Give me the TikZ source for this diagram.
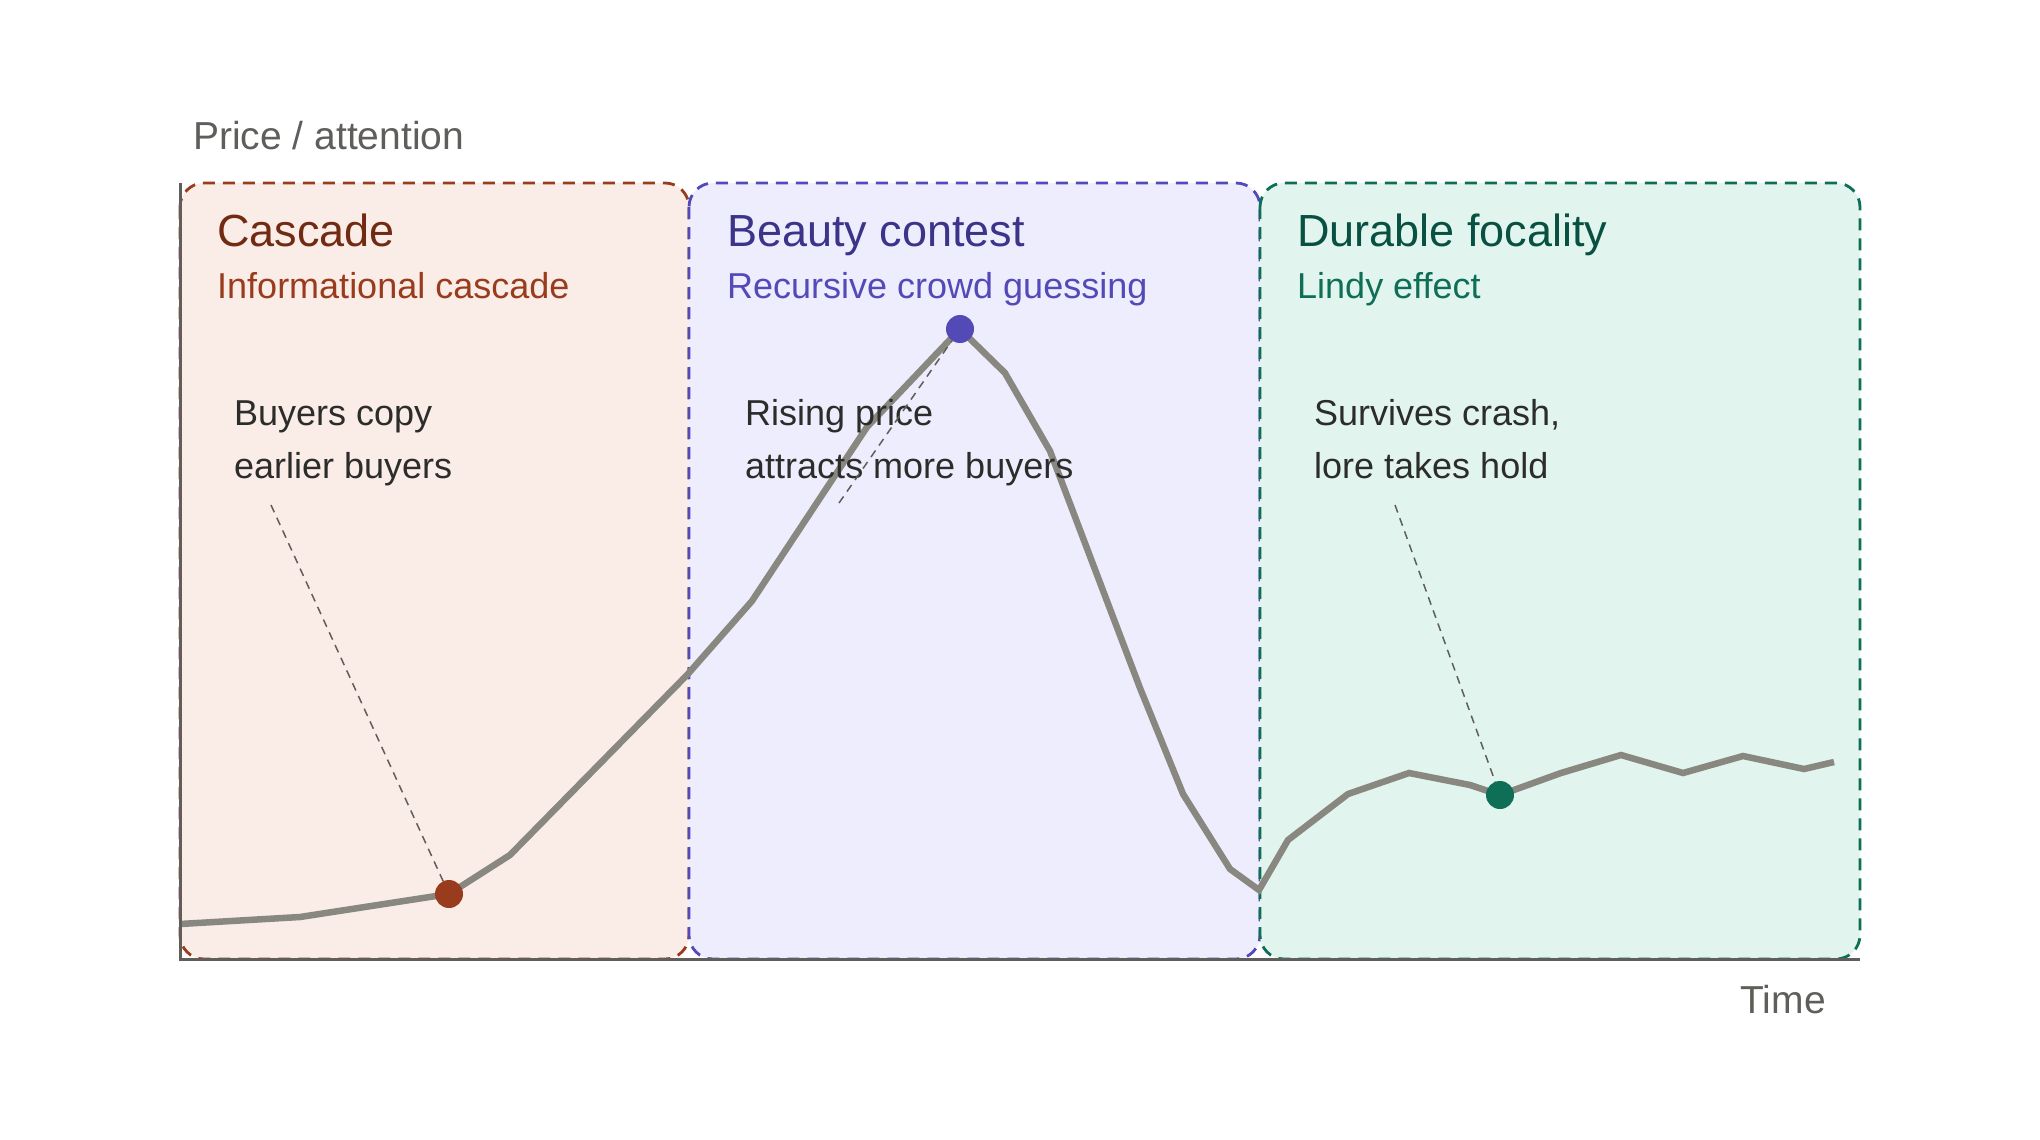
\documentclass[tikz,border=0pt]{standalone}
\usepackage{fontspec}
\setmainfont{Liberation Sans}
\usepackage{xcolor}
\usepackage{tikz}
\usetikzlibrary{positioning}

\definecolor{coralfill}{HTML}{FAECE7}
\definecolor{coralline}{HTML}{993C1D}
\definecolor{coraldark}{HTML}{712B13}
\definecolor{purplefill}{HTML}{EEEDFE}
\definecolor{purpleline}{HTML}{534AB7}
\definecolor{purpledark}{HTML}{3C3489}
\definecolor{tealfill}{HTML}{E1F5EE}
\definecolor{tealline}{HTML}{0F6E56}
\definecolor{tealdark}{HTML}{085041}
\definecolor{curvegray}{HTML}{888780}
\definecolor{axisgray}{HTML}{5F5E5A}
\definecolor{inkgray}{HTML}{2C2C2A}

\begin{document}
\begin{tikzpicture}[x=1pt, y=-1pt,
    zone/.style={line width=2.8pt, dash pattern=on 12pt off 8pt, rounded corners=24pt},
    zonetitle/.style={anchor=base west, inner sep=0pt, font=\fontsize{45}{54}\selectfont},
    zonesub/.style={anchor=base west, inner sep=0pt, font=\fontsize{36}{43}\selectfont},
    note/.style={anchor=base west, inner sep=0pt, align=left, text=inkgray, font=\fontsize{36}{53}\selectfont},
    axislabel/.style={inner sep=0pt, text=axisgray, font=\fontsize{39}{47}\selectfont},
    marker/.style={circle, inner sep=0pt, minimum size=28pt},
    leader/.style={draw=axisgray, line width=1.5pt, dash pattern=on 8pt off 6pt}]
    \useasboundingbox (0,0) rectangle (2040,1140);

    % Ba vùng nền
    \draw[zone, draw=coralline, fill=coralfill] (180,183) rectangle (689,959);
    \draw[zone, draw=purpleline, fill=purplefill] (689,183) rectangle (1260,959);
    \draw[zone, draw=tealline, fill=tealfill] (1260,183) rectangle (1860,959);

    % Đường giá
    \draw[curvegray, line width=6.5pt] plot coordinates {
        (180,924) (300,917) (449,894) (510,855) (687,675) (752,601)
        (867,427) (960,329) (1005,373) (1050,451) (1140,688) (1183,794)
        (1230,869) (1259,890) (1288,840) (1348,794) (1409,773) (1470,785)
        (1500,795) (1561,773) (1621,755) (1683,773) (1743,756) (1804,769)
        (1834,762)};

    % Hệ trục
    \draw[axisgray, line width=3pt] (180,183) -- (180,959) -- (1860,959);
    \node[axislabel, anchor=base west] (ylab) at (193,149) {Price / attention};
    \node[axislabel, anchor=base east] (xlab) at (1826,1013) {Time};

    % Tiêu đề các vùng
    \node[zonetitle, text=coraldark] (cascTitle) at (217,246) {Cascade};
    \node[zonesub, text=coralline] (cascSub) at (217,298) {Informational cascade};
    \node[zonetitle, text=purpledark] (beautyTitle) at (727,246) {Beauty contest};
    \node[zonesub, text=purpleline] (beautySub) at (727,298) {Recursive crowd guessing};
    \node[zonetitle, text=tealdark] (lindyTitle) at (1297,246) {Durable focality};
    \node[zonesub, text=tealline] (lindySub) at (1297,298) {Lindy effect};

    % Chú thích (base = dòng cuối)
    \node[note] (cascNote) at (234,478) {Buyers copy\\earlier buyers};
    \node[note] (beautyNote) at (745,478) {Rising price\\attracts more buyers};
    \node[note] (lindyNote) at (1314,478) {Survives crash,\\lore takes hold};

    % Các điểm đánh dấu
    \node[marker, fill=coralline] (cascDot) at (449,894) {};
    \node[marker, fill=purpleline] (beautyDot) at (960,329) {};
    \node[marker, fill=tealline] (lindyDot) at (1500,795) {};

    \coordinate (cascTip) at (271,505);
    \coordinate (beautyTip) at (839,503);
    \coordinate (lindyTip) at (1395,505);
    \draw[leader] (cascTip) -- (cascDot);
    \draw[leader] (beautyTip) -- (beautyDot);
    \draw[leader] (lindyTip) -- (lindyDot);
\end{tikzpicture}
\end{document}
